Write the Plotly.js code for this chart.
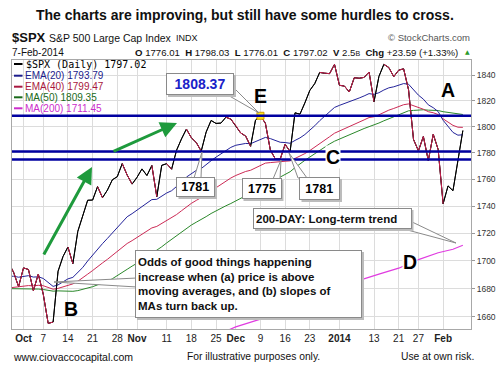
<!DOCTYPE html>
<html><head><meta charset="utf-8">
<script src="https://cdn.plot.ly/plotly-3.0.1.min.js"></script>
<style>html,body{margin:0;padding:0;background:#fff;}#chart{width:503px;height:371px;}</style>
</head><body><div id="chart"></div>
<script>
// ---------------- DATA ----------------
const dates = [
 "2013-09-26","2013-09-27","2013-09-30",
 "2013-10-01","2013-10-02","2013-10-03","2013-10-04",
 "2013-10-07","2013-10-08","2013-10-09","2013-10-10","2013-10-11",
 "2013-10-14","2013-10-15","2013-10-16","2013-10-17","2013-10-18",
 "2013-10-21","2013-10-22","2013-10-23","2013-10-24","2013-10-25",
 "2013-10-28","2013-10-29","2013-10-30","2013-10-31","2013-11-01",
 "2013-11-04","2013-11-05","2013-11-06","2013-11-07","2013-11-08",
 "2013-11-11","2013-11-12","2013-11-13","2013-11-14","2013-11-15",
 "2013-11-18","2013-11-19","2013-11-20","2013-11-21","2013-11-22",
 "2013-11-25","2013-11-26","2013-11-27","2013-11-29",
 "2013-12-02","2013-12-03","2013-12-04","2013-12-05","2013-12-06",
 "2013-12-09","2013-12-10","2013-12-11","2013-12-12","2013-12-13",
 "2013-12-16","2013-12-17","2013-12-18","2013-12-19","2013-12-20",
 "2013-12-23","2013-12-24","2013-12-26","2013-12-27",
 "2013-12-30","2013-12-31","2014-01-02","2014-01-03",
 "2014-01-06","2014-01-07","2014-01-08","2014-01-09","2014-01-10",
 "2014-01-13","2014-01-14","2014-01-15","2014-01-16","2014-01-17",
 "2014-01-21","2014-01-22","2014-01-23","2014-01-24",
 "2014-01-27","2014-01-28","2014-01-29","2014-01-30","2014-01-31",
 "2014-02-03","2014-02-04","2014-02-05","2014-02-06","2014-02-07"
];
const spx = [
 1698.67,1691.75,1681.55,
 1695.00,1693.87,1678.66,1690.50,
 1676.12,1655.45,1656.40,1692.56,1703.20,
 1710.14,1698.06,1721.54,1733.15,1744.50,
 1744.66,1754.67,1746.38,1752.07,1759.77,
 1762.11,1771.95,1763.31,1756.54,1761.64,
 1767.93,1762.97,1770.49,1747.15,1770.61,
 1771.89,1767.69,1782.00,1790.62,1798.18,
 1791.53,1787.87,1781.37,1795.85,1804.76,
 1802.48,1802.75,1807.23,1805.81,
 1800.90,1795.15,1792.81,1785.03,1805.09,
 1808.37,1802.62,1782.22,1775.50,1775.32,
 1786.54,1781.00,1810.65,1809.60,1818.32,
 1827.99,1833.32,1842.02,1841.40,
 1841.07,1848.36,1831.98,1831.37,
 1826.77,1837.88,1837.49,1838.13,1842.37,
 1819.20,1838.88,1848.38,1845.89,1838.70,
 1843.80,1844.86,1828.46,1790.29,
 1781.56,1792.50,1774.20,1794.19,1782.59,
 1741.89,1755.20,1751.64,1773.43,1797.02
];
const ema20 = [
 1689.0,1689.0,1688.3,
 1688.9,1689.4,1688.4,1688.6,
 1687.4,1684.4,1681.7,1682.8,1684.7,
 1687.1,1688.2,1691.4,1695.3,1700.0,
 1704.3,1709.1,1712.6,1716.4,1720.5,
 1724.5,1729.0,1732.3,1734.6,1737.2,
 1740.1,1742.3,1745.0,1745.2,1747.6,
 1749.9,1751.6,1754.5,1757.9,1761.8,
 1764.6,1766.8,1768.2,1770.8,1774.1,
 1776.8,1779.2,1781.9,1784.2,
 1785.8,1786.7,1787.2,1787.0,1788.7,
 1790.6,1791.8,1790.9,1789.4,1788.1,
 1787.9,1787.3,1789.5,1791.4,1794.0,
 1797.2,1800.7,1804.6,1808.1,
 1811.2,1814.8,1816.4,1817.8,
 1818.7,1820.5,1822.1,1823.7,1825.5,
 1824.9,1826.2,1828.3,1830.0,1830.8,
 1832.1,1833.3,1832.8,1828.8,
 1824.3,1821.2,1816.8,1814.6,1811.6,
 1804.9,1800.2,1795.6,1793.5,1793.79
];
const ema40 = [
 1680.6,1681.0,1681.0,
 1681.7,1682.3,1682.1,1682.5,
 1682.2,1680.9,1679.7,1680.3,1681.4,
 1682.8,1683.5,1685.4,1687.7,1690.5,
 1693.1,1696.1,1698.6,1701.2,1704.1,
 1706.9,1710.1,1712.7,1714.8,1717.1,
 1719.6,1721.7,1724.1,1725.2,1727.4,
 1729.6,1731.4,1733.9,1736.7,1739.7,
 1742.2,1744.4,1746.2,1748.6,1751.4,
 1753.9,1756.3,1758.8,1761.1,
 1763.0,1764.6,1766.0,1766.9,1768.8,
 1770.7,1772.3,1772.7,1772.9,1773.0,
 1773.7,1774.0,1775.8,1777.5,1779.5,
 1781.8,1784.3,1787.2,1789.8,
 1792.3,1795.0,1796.8,1798.5,
 1799.9,1801.8,1803.5,1805.2,1807.0,
 1807.6,1809.1,1811.0,1812.7,1814.0,
 1815.5,1816.9,1817.5,1816.2,
 1814.5,1813.4,1811.5,1810.7,1809.3,
 1806.0,1803.5,1801.0,1799.6,1799.47
];
const ma50 = [
 1680.1,1680.1,1679.9,
 1679.9,1679.9,1679.8,1679.8,
 1679.5,1678.9,1678.3,1678.5,1678.4,
 1678.4,1678.2,1678.7,1679.5,1680.5,
 1681.5,1682.8,1683.9,1685.2,1687.2,
 1689.3,1691.8,1694.0,1696.3,1698.4,
 1700.5,1702.6,1705.4,1707.7,1710.3,
 1713.1,1715.7,1718.2,1721.0,1723.8,
 1726.2,1728.3,1730.1,1732.4,1734.7,
 1736.8,1738.8,1740.4,1742.1,
 1743.9,1745.8,1747.7,1749.5,1751.7,
 1754.0,1756.4,1758.2,1759.8,1761.7,
 1763.7,1765.8,1768.9,1771.9,1774.4,
 1776.9,1779.4,1782.3,1784.7,
 1786.8,1788.9,1790.6,1792.2,
 1793.8,1795.5,1797.1,1798.6,1800.0,
 1801.1,1802.8,1804.5,1806.1,1807.6,
 1809.1,1811.0,1812.2,1812.5,
 1812.8,1813.0,1812.7,1812.6,1812.4,
 1811.5,1811.0,1810.1,1809.5,1809.35
];
const ma200Dates = ["2013-11-26","2013-12-02","2013-12-09","2013-12-13","2013-12-19","2013-12-26",
 "2014-01-02","2014-01-08","2014-01-14","2014-01-21","2014-01-27","2014-01-31","2014-02-05","2014-02-07"];
const ma200 = [1648.5,1653.0,1658.5,1663.0,1668.5,1674.5,1680.0,1686.0,1690.5,1694.8,1701.0,1706.0,1708.5,1711.45];
// legs of the price line drawn in red (start date, end date)
const redLegs = [
 ["2013-09-26","2013-10-09"],["2013-10-14","2013-10-15"],["2013-10-22","2013-10-23"],
 ["2013-10-29","2013-10-31"],["2013-11-06","2013-11-07"],["2013-11-11","2013-11-12"],
 ["2013-11-15","2013-11-20"],["2013-11-27","2013-12-05"],["2013-12-09","2013-12-17"],
 ["2013-12-26","2014-01-13"],["2014-01-15","2014-02-03"]
];
const levels = [1808.37, 1781, 1775];
const highlightDate = "2013-12-09", highlightValue = 1808.37;
const tickDates = ["2013-10-01","2013-10-07","2013-10-14","2013-10-21","2013-10-28","2013-11-01",
 "2013-11-11","2013-11-18","2013-11-25","2013-12-02","2013-12-09","2013-12-16","2013-12-23",
 "2014-01-02","2014-01-13","2014-01-21","2014-01-27","2014-02-03"];
const tickLabels = ["<b>Oct</b>","7","14","21","28","<b>Nov</b>","11","18","25","<b>Dec</b>","9","16","23",
 "<b>2014</b>","13","21","27","<b>Feb</b>"];
const yTicks = [1660,1680,1700,1720,1740,1760,1780,1800,1820,1840];
const quote = {open:1776.01, high:1798.03, low:1776.01, volume:"2.5", chg:23.59, chgPct:1.33};

// ---------------- STYLE ----------------
const FONT = "Liberation Sans, Arial, Helvetica, sans-serif";
const C = {spx:"#000000", red:"#cc1f4e", ema20:"#23239a", ema40:"#cc2a55", ma50:"#2a882a",
           ma200:"#e03ce0", level:"#0000a0", green:"#1e9a3c"};
const L=12, R=471, T=60, B=329;
const px = x => (x-L)/(R-L);
const py = y => (B-y)/(B-T);

// red overlay built from the legs
const redX=[], redY=[];
redLegs.forEach(([a,b])=>{
  const i0=dates.indexOf(a), i1=dates.indexOf(b);
  for(let i=i0;i<=i1;i++){redX.push(dates[i]); redY.push(spx[i]);}
  redX.push(dates[i1]); redY.push(null);
});

const traces = [
 {x:dates, y:spx, type:'scatter', mode:'lines', line:{color:C.spx, width:1}, hoverinfo:'skip'},
 {x:ma200Dates, y:ma200, type:'scatter', mode:'lines', line:{color:C.ma200, width:1.2}, hoverinfo:'skip'},
 {x:dates, y:ma50, type:'scatter', mode:'lines', line:{color:C.ma50, width:1}, hoverinfo:'skip'},
 {x:dates, y:ema40, type:'scatter', mode:'lines', line:{color:C.ema40, width:1}, hoverinfo:'skip'},
 {x:dates, y:ema20, type:'scatter', mode:'lines', line:{color:C.ema20, width:1}, hoverinfo:'skip'},
 {x:dates, y:spx, type:'scatter', mode:'lines', line:{color:C.spx, width:1}, hoverinfo:'skip'},
 {x:redX, y:redY, type:'scatter', mode:'lines', connectgaps:false, line:{color:C.red, width:1}, hoverinfo:'skip'},
 {x:[highlightDate], y:[highlightValue], type:'scatter', mode:'markers',
  marker:{symbol:'square', size:7, color:'#ffe81a', line:{color:'#d09a00', width:1}}, hoverinfo:'skip'}
];

const shapes = [];
levels.forEach(v=>shapes.push({type:'line', xref:'paper', x0:0, x1:1, yref:'y', y0:v, y1:v,
  line:{color:C.level, width:2.5}, layer:'above'}));

function pathP(pts){ return 'M'+pts.map(p=>px(p[0])+','+py(p[1])).join(' L')+' Z'; }
function tail(pts){ shapes.push({type:'path', xref:'paper', yref:'paper', path:pathP(pts),
  fillcolor:'#ffffff', line:{color:'#8a8a8a', width:1}, layer:'above'}); }
function shadow(x0,y0,x1,y1){ shapes.push({type:'rect', xref:'paper', yref:'paper',
  x0:px(x0+2), x1:px(x1+2), y0:py(y0+2), y1:py(y1+2), fillcolor:'#bcbcbc', line:{width:0}, layer:'above'}); }

const annotations = [];
function txt(x,y,text,size,opts){ annotations.push(Object.assign({xref:'paper', yref:'paper', x:px(x), y:py(y),
  text, showarrow:false, xanchor:'left', yanchor:'middle', font:{family:FONT, size, color:'#111'}}, opts||{})); }
function box(x0,y0,x1,y1,text,font,align){
  shadow(x0,y0,x1,y1);
  const bp=2;
  annotations.push({xref:'paper', yref:'paper', x:px((x0+x1)/2), y:py((y0+y1)/2), xanchor:'center', yanchor:'middle',
    showarrow:false, text, font, align:align||'center', width:(x1-x0)-2-2*bp, height:(y1-y0)-2-2*bp,
    bgcolor:'#ffffff', bordercolor:'#8a8a8a', borderwidth:1, borderpad:bp});
}

// title & header
txt(245,15.5,"<b>The charts are improving, but still have some hurdles to cross.</b>",14,{xanchor:'center'});
txt(10,38,"<b>$SPX</b>",13);
txt(46.5,38.5,"S&P 500 Large Cap Index",10.5);
txt(174,38.5,"INDX",9);
txt(472,38,"© StockCharts.com",9.5,{xanchor:'right', font:{family:FONT,size:9.5,color:'#555'}});
txt(10,52.5,"7-Feb-2014",10);
const last = spx[spx.length-1];
txt(133,52.5,"<b>O</b> "+quote.open.toFixed(2)+"  <b>H</b> "+quote.high.toFixed(2)+"  <b>L</b> "+quote.low.toFixed(2)+
  "  <b>C</b> "+last.toFixed(2)+"  <b>V</b> "+quote.volume+"<span style='font-size:7px'>B</span>  <b>Chg</b> +"+
  quote.chg.toFixed(2)+" (+"+quote.chgPct.toFixed(2)+"%)",9.6);
txt(462.5,52,"▲",6,{font:{family:"DejaVu Sans",size:6,color:'#2a9a2a'}});

// legend
const legend = [
 ["$SPX (Daily) "+last.toFixed(2), C.spx, "DejaVu Sans Mono, monospace", 10],
 ["EMA(20) "+ema20[ema20.length-1].toFixed(2), "#1c1c8c", FONT, 10],
 ["EMA(40) "+ema40[ema40.length-1].toFixed(2), "#a81840", FONT, 10],
 ["MA(50) "+ma50[ma50.length-1].toFixed(2), "#1a6a1a", FONT, 10],
 ["MA(200) "+ma200[ma200.length-1].toFixed(2), "#cc2ccc", FONT, 10]
];
const legY=[64,75.7,86.7,97.3,108.3];
legend.forEach((e,i)=>{
  shapes.push({type:'line', xref:'paper', yref:'paper', x0:px(14), x1:px(22.5), y0:py(legY[i]), y1:py(legY[i]),
    line:{color:e[1], width:2}, layer:'above'});
  txt(i==0?24:23, legY[i], e[0], e[3], {font:{family:e[2], size:e[3], color:e[1]}});
});

// letters
const bigFont = c=>({family:FONT, size:19.5, color:c||'#000'});
txt(260,95.5,"<b>E</b>",19.5,{xanchor:'center', font:bigFont()});
txt(333,157,"<b>C</b>",19.5,{xanchor:'center', font:bigFont(), bgcolor:'#fff', borderpad:0});
txt(447.5,89.7,"<b>A</b>",19.5,{xanchor:'center', font:bigFont()});
txt(70.7,308.7,"<b>B</b>",19.5,{xanchor:'center', font:bigFont()});
txt(410,262,"<b>D</b>",19.5,{xanchor:'center', font:bigFont(), bgcolor:'#fff', borderpad:0});

// callouts
tail([[226,94],[259,113],[233,87]]);
box(166,73,234,95,"<b>1808.37</b>",{family:FONT,size:14,color:'#1a22c8'});
tail([[194,178],[202,152],[201,178]]);
box(176.5,177,215,197,"<b>1781</b>",{family:FONT,size:12.5,color:'#000'});
tail([[273,179],[281,160],[280,179]]);
box(241.5,178,281.5,199,"<b>1775</b>",{family:FONT,size:12.5,color:'#000'});
tail([[298,178],[289,153],[307,178]]);
box(299.5,177,340,200,"<b>1781</b>",{family:FONT,size:12.5,color:'#000'});
tail([[400,228],[456,243],[410,221]]);
box(253,208,411.5,229,"<b>200-DAY: Long-term trend</b>",{family:FONT,size:11.5,color:'#111'},'left');
tail([[137,278],[54,282],[137,287]]);
box(135,250,362,318,"<b>Odds of good things happening<br>increase when (a) price is above<br>moving averages, and (b) slopes of<br>MAs turn back up.</b>",{family:FONT,size:11.5,color:'#111'},'left');

// arrows
function arrow(x0,y0,x1,y1){ annotations.push({xref:'paper', yref:'paper', x:px(x1), y:py(y1), ax:x0-x1, ay:y0-y1,
  axref:'pixel', ayref:'pixel', text:'', showarrow:true, arrowhead:2, arrowsize:1.1, arrowwidth:3, arrowcolor:C.green}); }
arrow(43,256,92,167);
arrow(112,152,177,123);

// footer
txt(11,357,"www.ciovaccocapital.com",10.5);
txt(185,357,"For illustrative purposes only.",10.3);
txt(399,357,"Use at own risk.",10.3);

const layout = {
  width:503, height:371, margin:{l:L, r:503-R, t:T, b:371-B, pad:0},
  paper_bgcolor:'#fff', plot_bgcolor:'#fff', showlegend:false,
  font:{family:FONT, size:10, color:'#222'},
  xaxis:{type:'category', categoryorder:'array', categoryarray:dates, range:[0.67, 93.65],
    tickmode:'array', tickvals:tickDates, ticktext:tickLabels,
    showgrid:true, gridcolor:'#dcdcdc', gridwidth:1, showline:true, mirror:true, linecolor:'#a8a8a8', linewidth:1,
    ticks:'', tickfont:{family:FONT, size:10, color:'#222'}, zeroline:false, fixedrange:true, tickangle:0},
  yaxis:{type:'log', range:[Math.log10(1651.5), Math.log10(1851.8)], side:'right', tickmode:'array',
    tickvals:yTicks, ticktext:yTicks.map(String), showgrid:true, gridcolor:'#dcdcdc', showline:true, mirror:true,
    linecolor:'#a8a8a8', linewidth:1, ticks:'outside', ticklen:3, tickcolor:'#999',
    tickfont:{family:FONT, size:8.5, color:'#333'}, zeroline:false, fixedrange:true},
  shapes, annotations
};
Plotly.newPlot('chart', traces, layout, {displayModeBar:false, staticPlot:true});
</script></body></html>
